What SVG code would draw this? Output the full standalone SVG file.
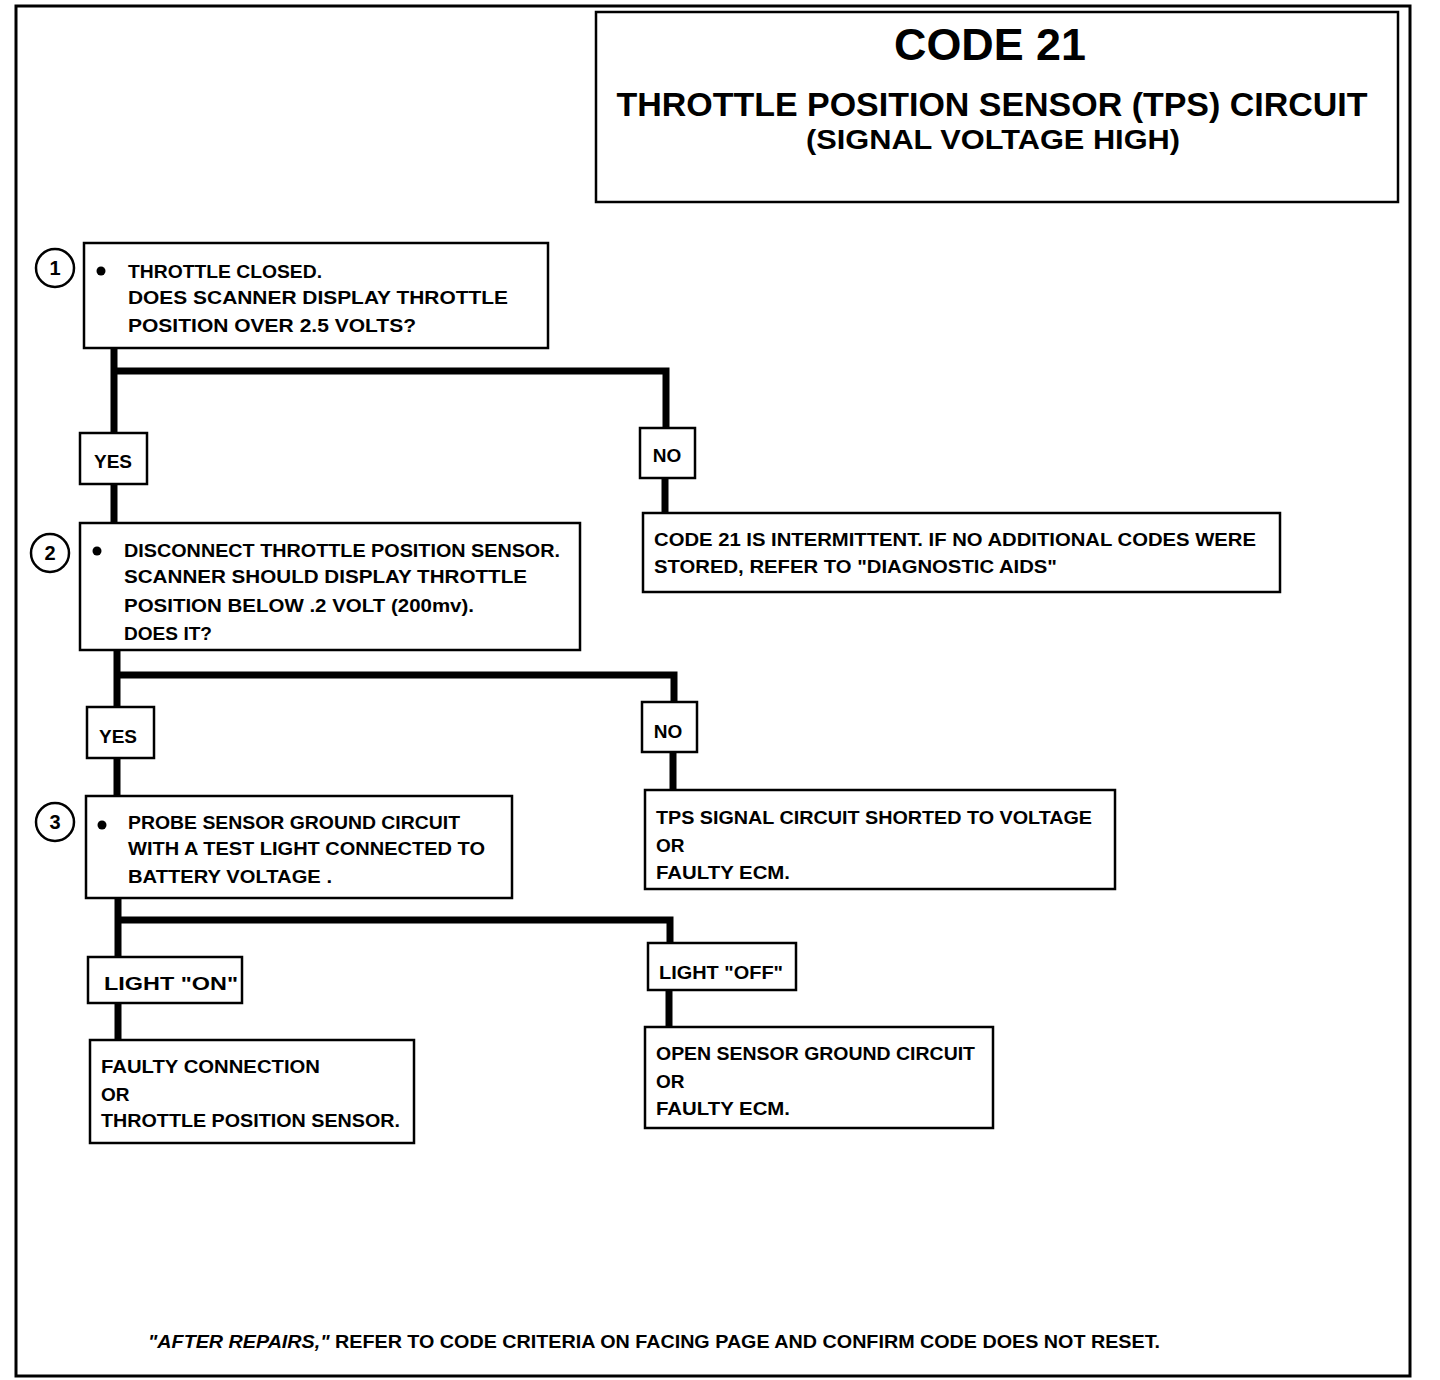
<svg xmlns="http://www.w3.org/2000/svg" width="1440" height="1380" viewBox="0 0 1440 1380">
<style>
.box{fill:#fff;stroke:#000;stroke-width:2.5}
.lab{fill:#fff;stroke:#000;stroke-width:2.5}
.conn{fill:none;stroke:#000;stroke-width:7;stroke-linejoin:miter}
.t{font-family:"Liberation Sans",Arial,sans-serif;font-weight:bold;font-size:19px;fill:#000}
.num{font-family:"Liberation Sans",Arial,sans-serif;font-weight:bold;font-size:20px;fill:#000;text-anchor:middle}
.circ{fill:#fff;stroke:#000;stroke-width:2.5}
.ttl{font-family:"Liberation Sans",Arial,sans-serif;font-weight:bold;fill:#000;text-anchor:middle}
</style>
<rect x="0" y="0" width="1440" height="1380" fill="#fff"/>
<rect x="16" y="6" width="1394" height="1370" fill="none" stroke="#000" stroke-width="3"/>
<g id="title">
<rect x="596" y="12" width="802" height="190" fill="#fff" stroke="#000" stroke-width="2.5"/>
<text class="ttl" x="990" y="60" font-size="44" textLength="192" lengthAdjust="spacingAndGlyphs">CODE 21</text>
<text class="ttl" x="992" y="116" font-size="34" textLength="751" lengthAdjust="spacingAndGlyphs">THROTTLE POSITION SENSOR (TPS) CIRCUIT</text>
<text class="ttl" x="993" y="149" font-size="27" textLength="374" lengthAdjust="spacingAndGlyphs">(SIGNAL VOLTAGE HIGH)</text>
</g>
<g id="connectors">
<path class="conn" d="M114 348 V433 M114 371 H666 V428 M114 484 V524 M665 478 V515"/>
<path class="conn" d="M117 650 V707 M117 675 H674 V702 M117 758 V797 M673 752 V790"/>
<path class="conn" d="M118 898 V958 M118 920 H670 V943 M118 1003 V1040 M669 990 V1028"/>
</g>
<g id="step1">
<circle class="circ" cx="55" cy="268" r="19"/>
<text class="num" x="55" y="275">1</text>
<rect class="box" x="84" y="243" width="464" height="105"/>
<circle cx="101" cy="271" r="4.5" fill="#000"/>
<text class="t" x="128" y="278" textLength="194" lengthAdjust="spacingAndGlyphs">THROTTLE CLOSED.</text>
<text class="t" x="128" y="304" textLength="380" lengthAdjust="spacingAndGlyphs">DOES SCANNER  DISPLAY THROTTLE</text>
<text class="t" x="128" y="332" textLength="288" lengthAdjust="spacingAndGlyphs">POSITION  OVER 2.5 VOLTS?</text>
</g>
<g id="yes1">
<rect class="lab" x="80" y="433" width="67" height="51"/>
<text class="t" x="113" y="468" text-anchor="middle">YES</text>
</g>
<g id="no1">
<rect class="lab" x="640" y="428" width="55" height="50"/>
<text class="t" x="667" y="462" text-anchor="middle">NO</text>
</g>
<g id="result-intermittent">
<rect class="box" x="643" y="513" width="637" height="79"/>
<text class="t" x="654" y="546" textLength="602" lengthAdjust="spacingAndGlyphs">CODE 21 IS INTERMITTENT.  IF NO ADDITIONAL CODES WERE</text>
<text class="t" x="654" y="573" textLength="403" lengthAdjust="spacingAndGlyphs">STORED, REFER TO  "DIAGNOSTIC AIDS"</text>
</g>
<g id="step2">
<circle class="circ" cx="50" cy="553" r="19"/>
<text class="num" x="50" y="560">2</text>
<rect class="box" x="80" y="523" width="500" height="127"/>
<circle cx="97" cy="551" r="4.5" fill="#000"/>
<text class="t" x="124" y="557" textLength="436" lengthAdjust="spacingAndGlyphs">DISCONNECT THROTTLE POSITION SENSOR.</text>
<text class="t" x="124" y="583" textLength="403" lengthAdjust="spacingAndGlyphs">SCANNER SHOULD DISPLAY THROTTLE</text>
<text class="t" x="124" y="612" textLength="350" lengthAdjust="spacingAndGlyphs">POSITION BELOW .2 VOLT (200mv).</text>
<text class="t" x="124" y="640" textLength="88" lengthAdjust="spacingAndGlyphs">DOES IT?</text>
</g>
<g id="yes2">
<rect class="lab" x="87" y="707" width="67" height="51"/>
<text class="t" x="118" y="743" text-anchor="middle">YES</text>
</g>
<g id="no2">
<rect class="lab" x="642" y="702" width="55" height="50"/>
<text class="t" x="668" y="738" text-anchor="middle">NO</text>
</g>
<g id="result-tps-short">
<rect class="box" x="645" y="790" width="470" height="99"/>
<text class="t" x="656" y="824" textLength="436" lengthAdjust="spacingAndGlyphs">TPS SIGNAL CIRCUIT SHORTED TO VOLTAGE</text>
<text class="t" x="656" y="852">OR</text>
<text class="t" x="656" y="879" textLength="134" lengthAdjust="spacingAndGlyphs">FAULTY ECM.</text>
</g>
<g id="step3">
<circle class="circ" cx="55" cy="822" r="19"/>
<text class="num" x="55" y="829">3</text>
<rect class="box" x="86" y="796" width="426" height="102"/>
<circle cx="102" cy="825" r="4.5" fill="#000"/>
<text class="t" x="128" y="829" textLength="332" lengthAdjust="spacingAndGlyphs">PROBE SENSOR GROUND CIRCUIT</text>
<text class="t" x="128" y="855" textLength="357" lengthAdjust="spacingAndGlyphs">WITH A TEST LIGHT CONNECTED TO</text>
<text class="t" x="128" y="883" textLength="204" lengthAdjust="spacingAndGlyphs">BATTERY VOLTAGE .</text>
</g>
<g id="light-on">
<rect class="lab" x="88" y="957" width="154" height="46"/>
<text class="t" x="104" y="990" textLength="134" lengthAdjust="spacingAndGlyphs">LIGHT "ON"</text>
</g>
<g id="light-off">
<rect class="lab" x="648" y="943" width="148" height="47"/>
<text class="t" x="659" y="979" textLength="124" lengthAdjust="spacingAndGlyphs">LIGHT "OFF"</text>
</g>
<g id="result-faulty-connection">
<rect class="box" x="90" y="1040" width="324" height="103"/>
<text class="t" x="101" y="1073" textLength="219" lengthAdjust="spacingAndGlyphs">FAULTY CONNECTION</text>
<text class="t" x="101" y="1101">OR</text>
<text class="t" x="101" y="1127" textLength="299" lengthAdjust="spacingAndGlyphs">THROTTLE POSITION SENSOR.</text>
</g>
<g id="result-open-ground">
<rect class="box" x="645" y="1027" width="348" height="101"/>
<text class="t" x="656" y="1060" textLength="319" lengthAdjust="spacingAndGlyphs">OPEN SENSOR GROUND CIRCUIT</text>
<text class="t" x="656" y="1088">OR</text>
<text class="t" x="656" y="1115" textLength="134" lengthAdjust="spacingAndGlyphs">FAULTY ECM.</text>
</g>
<g id="footer">
<text class="t" x="148" y="1348" textLength="1012" lengthAdjust="spacingAndGlyphs"><tspan font-style="italic">"AFTER REPAIRS,"</tspan> REFER TO CODE CRITERIA ON FACING PAGE AND CONFIRM CODE DOES NOT RESET.</text>
</g>
</svg>
